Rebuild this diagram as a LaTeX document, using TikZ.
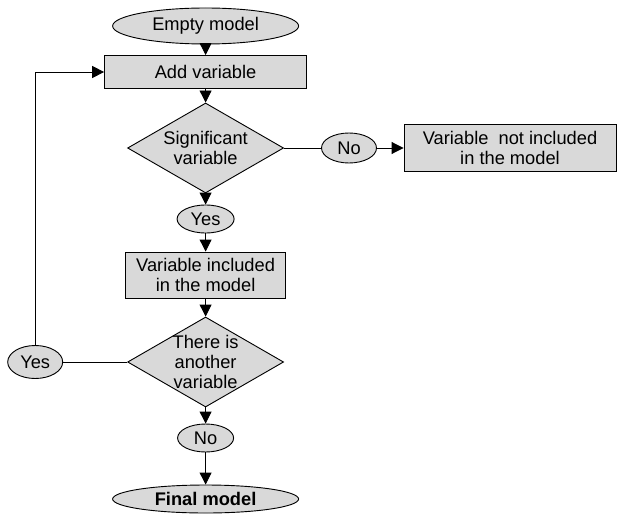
\documentclass[tikz,border=0pt]{standalone}
\usepackage{fontspec}
\setmainfont{Liberation Sans}
\usetikzlibrary{arrows.meta,shapes.geometric}

\begin{document}
\begin{tikzpicture}[line width=0.65pt]
      \tikzstyle{every node}=[font=\fontsize{13}{14.5}\selectfont,align=center]
      \tikzstyle{box}=[rectangle,draw,fill=black!15,inner sep=0pt]
      \tikzstyle{oval}=[ellipse,draw,fill=black!15,inner sep=0pt]
      \tikzstyle{test}=[diamond,draw,fill=black!15,inner sep=-2pt,aspect=1.73,
        minimum width=3.9cm,minimum height=2.25cm]

      \useasboundingbox (0,0) rectangle (15.425,-12.85);

      \node[oval,minimum width=4.65cm,minimum height=0.9cm] (empty) at (5.14,-0.65) {Empty model};
      \node[box,minimum width=5.05cm,minimum height=0.825cm] (add) at (5.14,-1.8) {Add variable};
      \node[test] (sig) at (5.14,-3.7) {Significant\\variable};
      \node[oval,minimum width=1.375cm,minimum height=0.75cm] (no1) at (8.725,-3.7) {No};
      \node[box,minimum width=5.3cm,minimum height=1.175cm] (notin) at (12.75,-3.7)
           {Variable~ not included\\in the model};
      \node[oval,minimum width=1.425cm,minimum height=0.7cm] (yes1) at (5.14,-5.475) {Yes};
      \node[box,minimum width=4.0cm,minimum height=1.15cm] (incl) at (5.14,-6.875)
           {Variable included\\in the model};
      \node[test] (another) at (5.14,-9.05) {There is\\another\\variable};
      \node[oval,minimum width=1.375cm,minimum height=0.825cm] (yes2) at (0.88,-9.05) {Yes};
      \node[oval,minimum width=1.4cm,minimum height=0.7cm] (no2) at (5.14,-10.95) {No};
      \node[oval,minimum width=4.65cm,minimum height=0.7cm] (final) at (5.14,-12.475)
           {\textbf{Final model}};

      \tikzstyle{ar}=[-{Triangle[length=0.3cm,width=0.3cm]}]
      \tikzstyle{ln}=[-]

      \draw[ar] (empty) -- (add);
      \draw[ar] (add) -- (sig);
      \draw[ln] (sig) -- (no1);
      \draw[ar] (no1) -- (notin);
      \draw[ar] (sig) -- (yes1);
      \draw[ar] (yes1) -- (incl);
      \draw[ar] (incl) -- (another);
      \draw[ln] (another) -- (yes2);
      \draw[ar] (yes2) |- (add);
      \draw[ar] (another) -- (no2);
      \draw[ar] (no2) -- (final);

\end{tikzpicture}
\end{document}
